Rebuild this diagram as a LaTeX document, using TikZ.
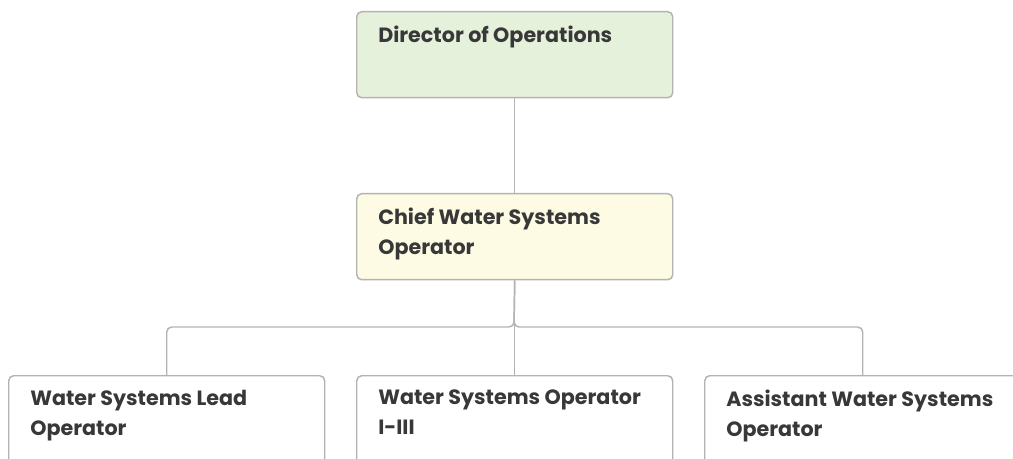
\documentclass[tikz,border=0pt]{standalone}
\usepackage{fontspec}
\setmainfont{Poppins}
\usetikzlibrary{positioning}
\definecolor{boxline}{HTML}{B3B3B3}
\definecolor{greenfill}{HTML}{E6F1DC}
\definecolor{yellowfill}{HTML}{FEFBE4}
\definecolor{textgray}{HTML}{383838}
\tikzset{
  orgbox/.style={draw=boxline, line width=1.1pt, rounded corners=3.75pt,
    minimum width=237pt, minimum height=64.5pt, inner sep=0pt, anchor=north west},
  orgtext/.style={anchor=north west, inner sep=0pt, align=left, text=textgray,
    font=\fontsize{15.5}{22.5}\selectfont\bfseries},
  link/.style={draw=boxline, line width=1.1pt, rounded corners=3.75pt}
}
\begin{document}
\begin{tikzpicture}[x=0.75pt, y=-0.75pt]
    \useasboundingbox (0,0) rectangle (1013,459);
    \clip (0,0) rectangle (1013,459);
    % Các hộp
    \node[orgbox, fill=greenfill] (director) at (356,11) {};
    \node[orgbox, fill=yellowfill] (chief) at (356,193) {};
    \node[orgbox, fill=white, minimum height=75pt] (lead) at (8,375) {};
    \node[orgbox, fill=white, minimum height=75pt] (operator) at (356,375) {};
    \node[orgbox, fill=white, minimum height=75pt] (assistant) at (704,375) {};

    % Chữ trong hộp
    \node[orgtext] (directortext) at ([shift={(22,15)}]director.north west) {Director of Operations};
    \node[orgtext] (chieftext) at ([shift={(22,15)}]chief.north west) {Chief Water Systems\\Operator};
    \node[orgtext] (leadtext) at ([shift={(22,15)}]lead.north west) {Water Systems Lead\\Operator};
    \node[orgtext] (operatortext) at ([shift={(22,15)}]operator.north west) {Water Systems Operator\\I-III};
    \node[orgtext] (assistanttext) at ([shift={(22,15)}]assistant.north west) {Assistant Water Systems\\Operator};

    % Đường nối
    \coordinate (bus) at (514,327);
    \draw[link] (director.south) -- (chief.north);
    \draw[link] (chief.south) -- (operator.north);
    \draw[link] (chief.south) -- (bus) -| (lead.north);
    \draw[link] (chief.south) -- (bus) -| (assistant.north);
\end{tikzpicture}
\end{document}
